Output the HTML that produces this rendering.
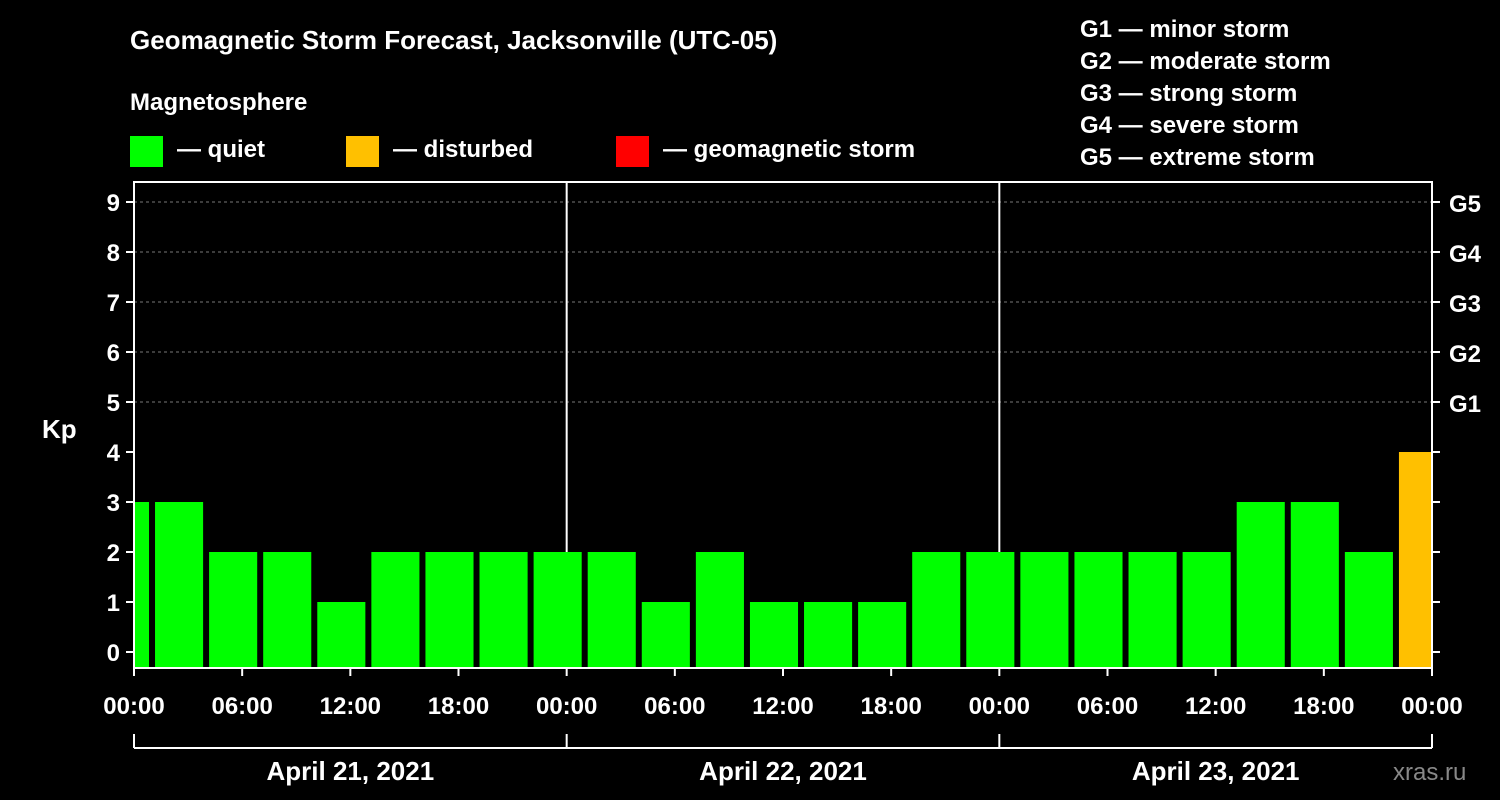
<!DOCTYPE html>
<html><head><meta charset="utf-8"><style>
body{margin:0;background:#000;}
svg{display:block;font-family:"Liberation Sans",Arial,sans-serif;font-weight:bold;}
</style></head><body>
<svg id="c" width="1500" height="800" viewBox="0 0 1500 800">
<rect width="1500" height="800" fill="#000"/>
<text x="130" y="49" fill="#fff" font-size="26">Geomagnetic Storm Forecast, Jacksonville (UTC-05)</text>
<text x="130" y="110" fill="#fff" font-size="24">Magnetosphere</text>
<g><rect x="130" y="136" width="33" height="31" fill="#00ff00"/><text x="177" y="157" fill="#fff" font-size="24">— quiet</text></g>
<g><rect x="346" y="136" width="33" height="31" fill="#ffc000"/><text x="393" y="157" fill="#fff" font-size="24">— disturbed</text></g>
<g><rect x="616" y="136" width="33" height="31" fill="#ff0000"/><text x="663" y="157" fill="#fff" font-size="24">— geomagnetic storm</text></g>
<g fill="#fff" font-size="24">
<text x="1080" y="37">G1 — minor storm</text><text x="1080" y="69">G2 — moderate storm</text><text x="1080" y="101">G3 — strong storm</text><text x="1080" y="133">G4 — severe storm</text><text x="1080" y="165">G5 — extreme storm</text></g>
<text x="42" y="438" fill="#fff" font-size="26">Kp</text>
<text x="1393" y="780" fill="#888" font-size="24" font-weight="normal">xras.ru</text>
<defs><clipPath id="pc"><rect x="134" y="182" width="1298" height="486"/></clipPath></defs>
<g id="grid"></g><g id="bars" clip-path="url(#pc)"></g><g id="axes"></g>
</svg>
<script>
const kpValues=[3,3,2,2,1,2,2,2,2,2,1,2,1,1,1,2,2,2,2,2,2,3,3,2,4];
const startHour=-2; // first bar start, local hours from Apr 21 00:00
const dayLabels=["April 21, 2021","April 22, 2021","April 23, 2021"];
const hourTicks=["00:00","06:00","12:00","18:00"];
const gLabels=["G1","G2","G3","G4","G5"];
const yTicks=[0,1,2,3,4,5,6,7,8,9];
const NS="http://www.w3.org/2000/svg";
const X0=134,X1=1432,Y0=668,YT=182;
const x=h=>X0+(X1-X0)*h/72;
const y=v=>652-50*v;
function mk(t,a,p,txt){const e=document.createElementNS(NS,t);for(const k in a)e.setAttribute(k,a[k]);if(txt!=null)e.textContent=txt;p.appendChild(e);return e;}
const grid=document.getElementById('grid'),bars=document.getElementById('bars'),axes=document.getElementById('axes');
[5,6,7,8,9].forEach(v=>{const l=mk('line',{x1:X0,x2:X1,y1:y(v),y2:y(v),stroke:'#777','stroke-dasharray':'3,3'},grid);

});
[1,2].forEach(d=>{const l=mk('line',{x1:x(d*24),x2:x(d*24),y1:YT,y2:Y0,stroke:'#fff','stroke-width':2},grid);

});
kpValues.forEach((v,i)=>{const h=startHour+3*i;
const r=mk('rect',{x:x(h)+3,y:y(v),width:x(h+3)-x(h)-6,height:Y0-y(v),fill:v>=5?'#ff0000':v>=4?'#ffc000':'#00ff00'},bars);

});
mk('rect',{x:X0,y:YT,width:X1-X0,height:Y0-YT,fill:'none',stroke:'#fff','stroke-width':2},axes);
yTicks.forEach(v=>{mk('line',{x1:X0-8,x2:X0,y1:y(v),y2:y(v),stroke:'#fff','stroke-width':2},axes);
mk('line',{x1:X1,x2:X1+8,y1:y(v),y2:y(v),stroke:'#fff','stroke-width':2},axes);
const t=mk('text',{x:X0-14,y:y(v)+9,fill:'#fff','font-size':24,'text-anchor':'end'},axes,String(v));

});
gLabels.forEach((g,i)=>{const t=mk('text',{x:X1+17,y:y(5+i)+10,fill:'#fff','font-size':24},axes,g);

});
for(let d=0;d<3;d++){hourTicks.forEach((lab,j)=>{const h=d*24+j*6;
mk('line',{x1:x(h),x2:x(h),y1:Y0,y2:Y0+8,stroke:'#fff','stroke-width':2},axes);
const t=mk('text',{x:x(h),y:714,fill:'#fff','font-size':24,'text-anchor':'middle'},axes,lab);

});
const t=mk('text',{x:x(d*24+12),y:780,fill:'#fff','font-size':26,'text-anchor':'middle'},axes,dayLabels[d]);

}
mk('line',{x1:X0,x2:X1,y1:Y0,y2:Y0+8,stroke:'#fff','stroke-width':2},axes).setAttribute('x1',X1);
mk('line',{x1:x(72),x2:x(72),y1:Y0,y2:Y0+8,stroke:'#fff','stroke-width':2},axes);
const t2=mk('text',{x:x(72),y:714,fill:'#fff','font-size':24,'text-anchor':'middle'},axes,"00:00");


mk('line',{x1:X0,x2:X1,y1:748,y2:748,stroke:'#fff','stroke-width':2},axes);
[0,24,48,72].forEach(h=>mk('line',{x1:x(h),x2:x(h),y1:734,y2:748,stroke:'#fff','stroke-width':2},axes));
</script>
</body></html>
